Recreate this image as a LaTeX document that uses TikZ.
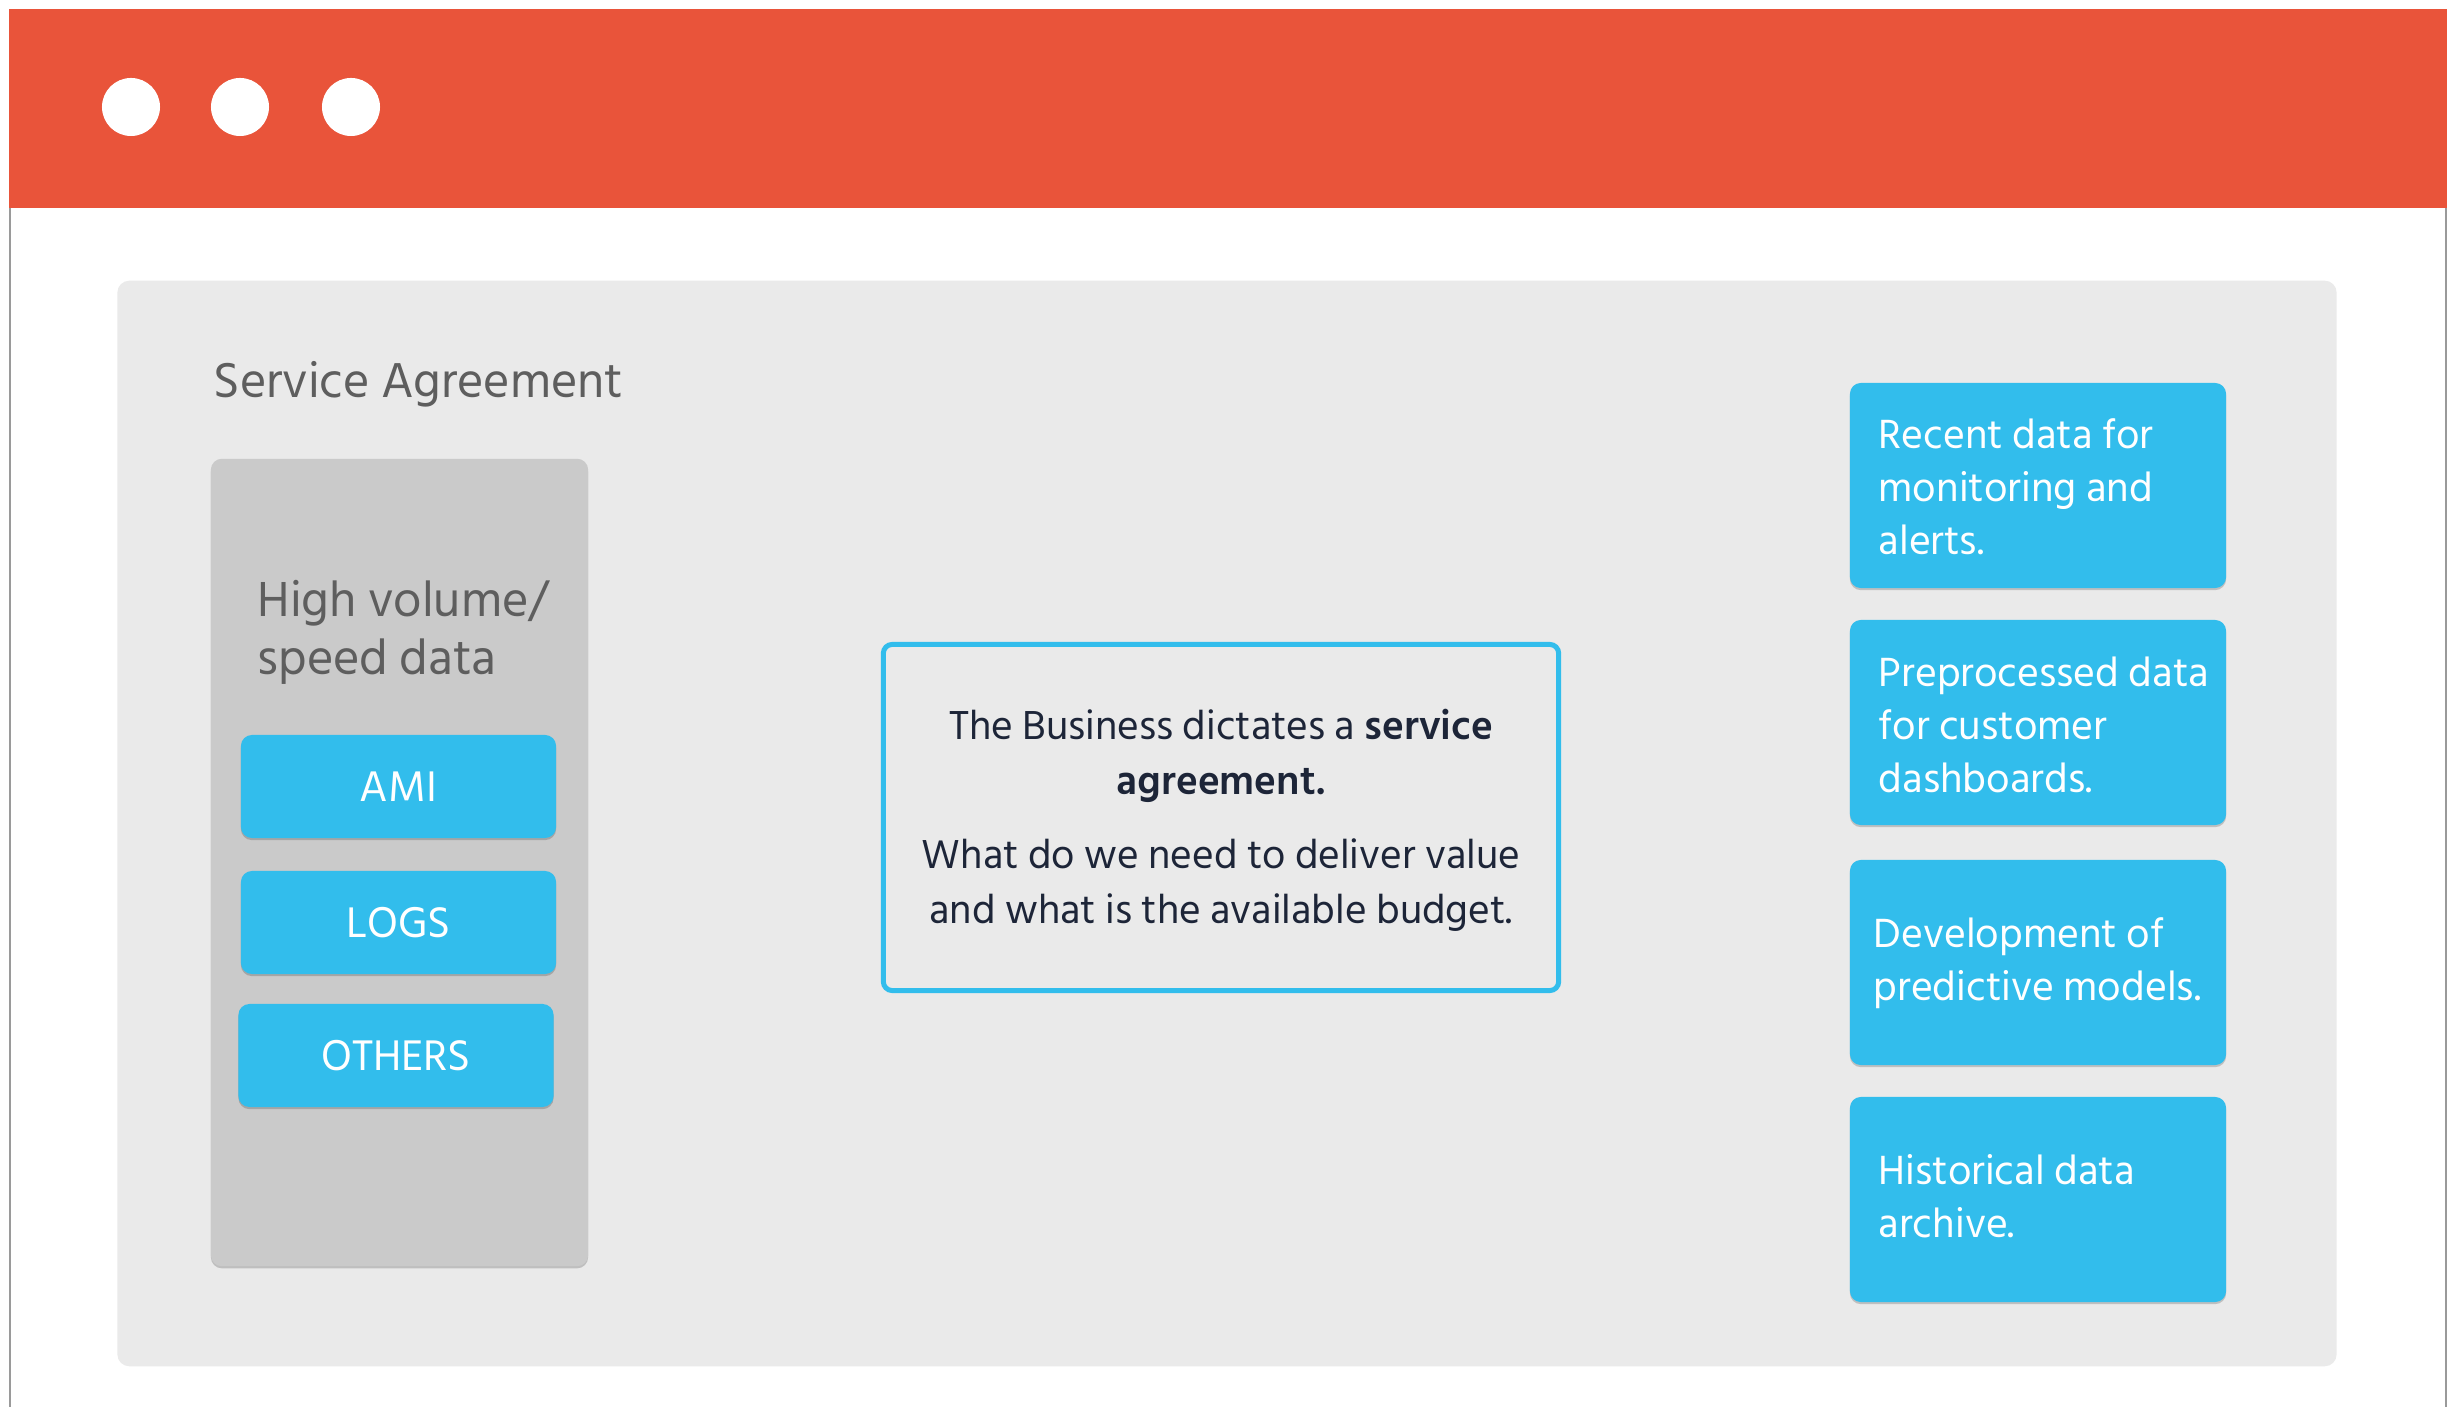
\documentclass[tikz,border=0pt]{standalone}
\usepackage{fontspec}
\setmainfont{Hind Siliguri}
\usetikzlibrary{shadows}
\definecolor{barred}{HTML}{E9543A}
\definecolor{skyblue}{HTML}{32BDEC}
\definecolor{panelgray}{HTML}{EAEAEA}
\definecolor{colgray}{HTML}{CACACA}
\definecolor{textgray}{HTML}{5E5E5E}
\definecolor{navy}{HTML}{1D2538}
\definecolor{edgegray}{HTML}{9A9A9A}
\begin{document}
\begin{tikzpicture}[x=0.01cm,y=-0.01cm,
  softshadow/.style={drop shadow={shadow xshift=0pt,shadow yshift=-0.6pt,opacity=0.18,fill=black}},
  bluebox/.style={fill=skyblue, draw=none, rounded corners=0.11cm, softshadow, inner sep=0pt, outer sep=0pt},
  srcbox/.style={bluebox, minimum width=3.15cm, minimum height=1.03cm, text=white, font=\fontsize{12.5}{15}\selectfont},
  outbox/.style={bluebox, minimum width=3.76cm, minimum height=2.05cm},
  outtext/.style={text=white, align=left, anchor=base west, inner sep=0pt, font=\fontsize{11.9}{15.1}\selectfont},
  dot/.style={circle, fill=white, minimum size=0.58cm, inner sep=0pt}]
\useasboundingbox (0,0) rectangle (2457,1407);
\fill[white] (0,0) rectangle (2457,1407);
% window frame
\fill[barred] (9,9) rectangle (2447,208);
\coordinate (lt) at (10,208); \coordinate (lb) at (10,1407);
\coordinate (rt) at (2446,208); \coordinate (rb) at (2446,1407);
\draw[edgegray, line width=0.6pt] (lt) -- (lb);
\draw[edgegray, line width=0.6pt] (rt) -- (rb);
\node[dot] (d1) at (131,107) {};
\node[dot] (d2) at (240,107) {};
\node[dot] (d3) at (351,107) {};
% panel
\node[fill=panelgray, rounded corners=0.12cm, minimum width=22.18cm, minimum height=10.85cm, inner sep=0pt] (panel) at (1227,823.5) {};
\node[anchor=base west, inner sep=0pt, text=textgray, font=\fontsize{14.3}{17}\selectfont] (title) at (213,398) {Service Agreement};
% source column
\node[fill=colgray, rounded corners=0.11cm, minimum width=3.77cm, minimum height=8.07cm, inner sep=0pt, softshadow] (col) at (399.5,862.5) {};
\node[anchor=base west, inner sep=0pt, align=left, text=textgray, font=\fontsize{14.35}{16.5}\selectfont] (coltitle) at (257,675) {High volume/\\speed data};
\node[srcbox] (ami) at (398.5,786.5) {AMI};
\node[srcbox] (logs) at (398.5,922.5) {LOGS};
\node[srcbox] (others) at (396,1055.5) {OTHERS};
% centre box
\node[draw=skyblue, line width=1.42pt, fill=panelgray, rounded corners=0.09cm, minimum width=6.75cm, minimum height=3.46cm, inner sep=0pt] (sla) at (1221,817.5) {};
\node[anchor=base, inner sep=0pt, align=center, text=navy, font=\fontsize{11.8}{15.7}\selectfont] (slatext) at (1221,924)
  {The Business dictates a \textbf{service}\\\textbf{agreement.}\\[5.4pt]What do we need to deliver value\\and what is the available budget.};
% outputs
\node[outbox] (o1) at (2038,485.5) {};
\node[outbox] (o2) at (2038,722.5) {};
\node[outbox] (o3) at (2038,962.5) {};
\node[outbox] (o4) at (2038,1199.5) {};
\node[outtext] (t1) at (1878,555) {Recent data for\\monitoring and\\alerts.};
\node[outtext] (t2) at (1878,793) {Preprocessed data\\for customer\\dashboards.};
\node[outtext] (t3) at (1873,1001) {Development of\\predictive models.};
\node[outtext] (t4) at (1878,1238) {Historical data\\archive.};
\end{tikzpicture}
\end{document}
